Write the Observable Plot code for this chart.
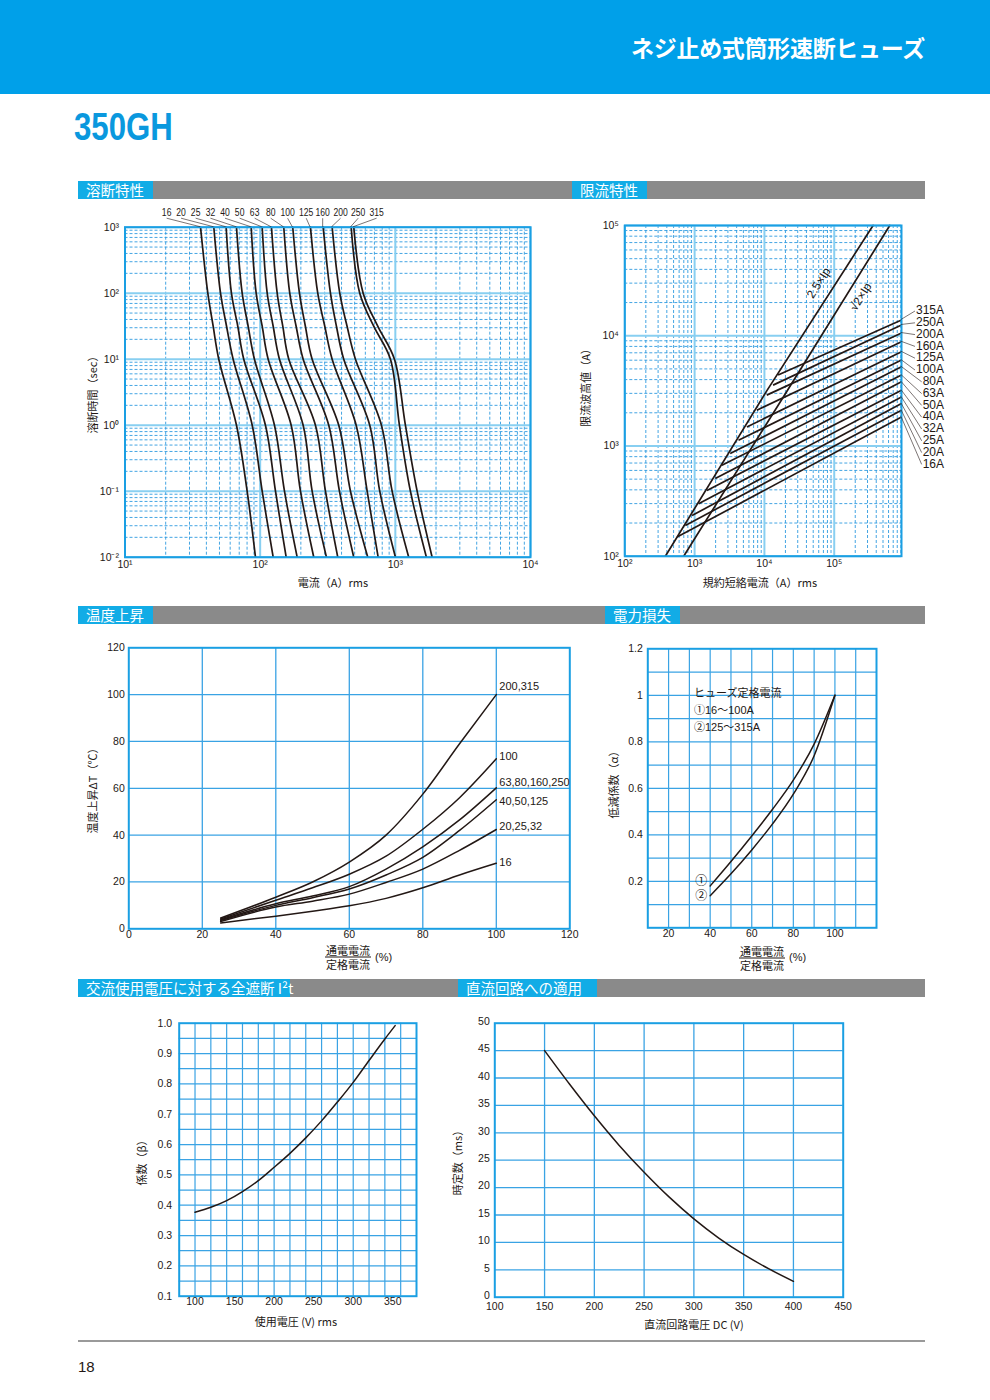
<!DOCTYPE html>
<html lang="ja">
<head>
<meta charset="utf-8">
<script src="https://cdn.jsdelivr.net/npm/d3@7"></script>
<script src="https://cdn.jsdelivr.net/npm/@observablehq/plot@0.6"></script>
<style>
html,body{margin:0;padding:0;background:#fff;}
#page{position:relative;width:990px;height:1400px;overflow:hidden;font-family:"Liberation Sans","Noto Sans CJK JP",sans-serif;color:#231815;}
#page > *{position:absolute;}
.band{left:0;top:0;width:990px;height:94px;background:#00a0e9;}
.htitle{right:65px;top:34px;font-family:"Noto Sans CJK JP",sans-serif;font-weight:700;font-size:23px;line-height:26px;color:#fff;letter-spacing:-0.3px;white-space:nowrap;}
.model{left:74px;top:108px;font-family:"Liberation Sans",sans-serif;font-weight:700;font-size:38px;line-height:38px;color:#0a98de;transform:scaleX(0.82);transform-origin:0 0;white-space:nowrap;}
.gbar{left:78px;width:847px;height:18px;background:#8a8a8a;}
.blab{height:18px;background:#12ace6;color:#fff;font-family:"Noto Sans CJK JP",sans-serif;font-size:14.5px;line-height:18px;padding-left:8px;box-sizing:border-box;white-space:nowrap;}
.ylab{transform:translate(-50%,-50%) rotate(-90deg);font-family:"Noto Sans CJK JP",sans-serif;font-size:11px;white-space:nowrap;line-height:1;}
.xlab{transform:translate(-50%,-50%);font-family:"Noto Sans CJK JP",sans-serif;font-size:11px;white-space:nowrap;line-height:1;}
.frac{transform:translate(-50%,-50%);font-family:"Noto Sans CJK JP",sans-serif;font-size:11px;line-height:13px;text-align:center;white-space:nowrap;}
.frac .num{border-bottom:1px solid #231815;padding:0 1px 0;}
.pct{font-size:11px;line-height:1;transform:translate(0,-50%);}
.rule{left:78px;top:1340px;width:847px;height:1.5px;background:#9a9a9a;}
.pno{left:78px;top:1358px;font-size:15px;line-height:18px;}
</style>
</head>
<body>
<div id="page">
  <div class="band"></div>
  <div class="htitle">ネジ止め式筒形速断ヒューズ</div>
  <div class="model">350GH</div>
</div>
<script>
// ---------------- DATA ----------------
// 溶断特性 (melting characteristics): time (s) vs current (A rms)
const meltRatings = [16, 20, 25, 32, 40, 50, 63, 80, 100, 125, 160, 200, 250, 315];
const meltTime = [1000, 100, 31.6, 10, 1, 0.1, 0.01];
const meltCurrent = [
  [36.2, 41.0, 44.9, 49.4, 66.8, 80.1, 92.3],
  [45.4, 50.9, 56.4, 63.1, 87.3, 103.5, 124.8],
  [56.0, 61.3, 68.3, 75.6, 109.4, 129.8, 155.7],
  [66.8, 73.6, 81.5, 90.7, 127.6, 151.3, 187.8],
  [85.8, 93.4, 103.5, 114.6, 169.6, 198.7, 249.2],
  [103.5, 112.7, 124.8, 138.9, 208.0, 242.4, 309.3],
  [121.2, 133.6, 147, 162.8, 256.4, 304.1, 375.0],
  [149.5, 165.5, 184.5, 208.0, 321.7, 385.9, 492.5],
  [174.2, 195.3, 216, 242.4, 381.4, 465.6, 625.2],
  [235.5, 266.7, 300.6, 340.8, 513.0, 618.8, 746.1],
  [292.4, 331.1, 366.6, 415.2, 646.7, 766.7, 1002],
  [340.8, 388.0, 439.5, 506.9, 789.3, 946.8, 1256],
  [471.2, 545.4, 692, 920, 1072, 1293, 1698],
  [492.4, 577.9, 741, 985, 1187, 1450, 1872]
];
const meltLabelAt = [20.5, 26.2, 33.6, 43.2, 55.4, 71.1, 91.8, 120.6, 161, 221, 292.6, 397, 536, 733];

// 限流特性 (current limiting): peak let-through (A) vs prospective current (A rms)
const ip25X = [381, 10800, 360000];
const ip25Y = [100, 3162, 100000];
const ipR2X = [697, 20900, 625000];
const ipR2Y = [100, 3120, 100000];
const ipLabels = ["2.5×Ip", "√2×Ip"];
const ipLabelX = [60000, 240000];
const ipLabelY = [30100, 22500];
const limRatings = [16, 20, 25, 32, 40, 50, 63, 80, 100, 125, 160, 200, 250, 315];
const limStartX = [561, 736, 918, 1140, 1503, 1977, 2461, 3236, 4254, 5610, 7786, 10800, 13300, 15700];
const limStartY = [149, 190, 234, 299, 395, 506, 668, 853, 1127, 1489, 2113, 2891, 3565, 4395];
const limEndY = [1833, 2113, 2429, 2788, 3205, 3819, 4395, 5227, 6012, 7160, 8818, 10590, 12510, 13900];

// 温度上昇 (temperature rise)
const tempX = [25, 40, 50, 60, 70, 80, 90, 100];
const tempGroups = ["200,315", "100", "63,80,160,250", "40,50,125", "20,25,32", "16"];
const tempY = [
  [4.6, 13.5, 20.0, 28.5, 40.0, 57.5, 79.0, 100],
  [4.2, 12.2, 17.5, 23.3, 31.0, 42.5, 56.0, 72.6],
  [3.8, 10.7, 14.0, 18.0, 25.5, 35.0, 46.5, 60.2],
  [3.5, 10.0, 13.3, 17.0, 23.0, 30.5, 42.0, 55.1],
  [3.1, 9.3, 11.8, 14.8, 19.8, 25.5, 33.5, 42.4],
  [2.5, 5.4, 7.5, 9.8, 13.0, 17.5, 23.0, 28.0]
];
const tempLabelY = [103.5, 73.5, 62.5, 54.5, 43.5, 28.5];

// 電力損失 (derating factor α)
const alphaX = [40, 50, 60, 70, 80, 90, 100];
const alpha1 = [0.18, 0.285, 0.395, 0.51, 0.635, 0.79, 1.0];
const alpha2 = [0.138, 0.232, 0.335, 0.447, 0.575, 0.74, 1.0];
const alphaNotes = ["ヒューズ定格電流", "①16〜100A", "②125〜315A"];

// 交流使用電圧に対する全遮断 I²t (factor β)
const betaV = [100, 120, 140, 160, 180, 200, 220, 240, 260, 280, 300, 320, 340, 353];
const beta = [0.377, 0.393, 0.415, 0.445, 0.481, 0.525, 0.571, 0.622, 0.678, 0.74, 0.805, 0.877, 0.948, 0.992];

// 直流回路への適用 (time constant)
const dcV = [150, 175, 200, 225, 250, 275, 300, 325, 350, 375, 400];
const dcTau = [45, 38.9, 33.1, 27.7, 22.8, 18.3, 14.3, 10.8, 7.8, 5.2, 2.9];

// ---------------- STYLE ----------------
const page = document.getElementById("page");
const FONT = '"Liberation Sans","Noto Sans CJK JP",sans-serif';
const INK = "#231815";
const FRAME = "#1a9fe3";
const MAJOR = "#88cff1";
const MINOR = "#2f9be0";
const GRID = "#3aa3e4";
const plotStyle = {fontFamily: FONT, fontSize: "10.5px", color: INK, background: "transparent", overflow: "visible"};

function mount(node, left, top) {
  node.style.position = "absolute";
  node.style.left = left + "px";
  node.style.top = top + "px";
  page.appendChild(node);
}
function html(cls, text, left, top, extra) {
  const d = document.createElement("div");
  d.className = cls;
  d.innerHTML = text;
  d.style.left = left + "px";
  d.style.top = top + "px";
  if (extra) Object.assign(d.style, extra);
  page.appendChild(d);
  return d;
}
const sup = {"-": "⁻", "0": "⁰", "1": "¹", "2": "²", "3": "³", "4": "⁴", "5": "⁵"};
const pow10 = v => "10" + String(Math.round(Math.log10(v))).split("").map(c => sup[c]).join("");
function logGrid(lo, hi, max) {
  const major = [], minor = [];
  for (let e = lo; e <= hi; e++) {
    major.push(10 ** e);
    for (let m = 2; m <= 9; m++) { const v = m * 10 ** e; if (v < (max ?? 10 ** hi)) minor.push(v); }
  }
  return {major, minor};
}
const range = (a, b, s) => d3.range(a, b + s / 2, s);

// ---------------- SECTION BARS ----------------
[[181, [["溶断特性", 78, 75], ["限流特性", 572, 75]]],
 [606, [["温度上昇", 78, 75], ["電力損失", 605, 75]]],
 [979, [["交流使用電圧に対する全遮断 I²t", 78, 212], ["直流回路への適用", 458, 139]]]
].forEach(([y, labs]) => {
  html("gbar", "", 78, y);
  labs.forEach(([t, x, w]) => html("blab", t, x, y, {width: w + "px"}));
});
html("rule", "", 78, 1340);
html("pno", "18", 78, 1358);

// ---------------- CHART 1: 溶断特性 ----------------
{
  const gx = logGrid(1, 4, 1e4), gy = logGrid(-2, 3, 1e3);
  const rows = meltRatings.flatMap((r, i) => meltTime.map((t, j) => ({rating: r, time: t, current: meltCurrent[i][j]})));
  const svg = Plot.plot({
    width: 470, height: 390, marginLeft: 54.5, marginRight: 10, marginTop: 26.7, marginBottom: 33.3,
    style: plotStyle,
    x: {type: "log", domain: [10, 1e4], axis: null},
    y: {type: "log", domain: [0.01, 1000], axis: null},
    marks: [
      Plot.ruleX(gx.minor, {stroke: MINOR, strokeWidth: 0.9, strokeDasharray: "3,2"}),
      Plot.ruleY(gy.minor, {stroke: MINOR, strokeWidth: 0.9, strokeDasharray: "3,2"}),
      Plot.ruleX(gx.major, {stroke: MAJOR, strokeWidth: 2}),
      Plot.ruleY(gy.major, {stroke: MAJOR, strokeWidth: 2}),
      Plot.line(rows, {x: "current", y: "time", z: "rating", curve: "catmull-rom", stroke: INK, strokeWidth: 1.7}),
      Plot.frame({stroke: FRAME, strokeWidth: 2}),
      Plot.text(gx.major, {x: d => d, text: pow10, frameAnchor: "bottom", dy: 11}),
      Plot.text(gy.major, {y: d => d, text: pow10, frameAnchor: "left", textAnchor: "end", dx: -6}),
      (index, scales, values, dims) => {
        const g = d3.create("svg:g");
        const top = dims.marginTop;
        meltRatings.forEach((r, i) => {
          const lx = scales.x(meltLabelAt[i]), tx = scales.x(meltCurrent[i][0]);
          g.append("line").attr("x1", lx).attr("y1", top - 8.5).attr("x2", tx).attr("y2", top)
            .attr("stroke", INK).attr("stroke-width", 0.6);
          g.append("text").attr("transform", `translate(${lx},${top - 14.5}) scale(0.78,1)`).attr("dy", "0.35em")
            .attr("text-anchor", "middle").attr("font-size", 11).attr("fill", INK)
            .text(r);
        });
        return g.node();
      }
    ]
  });
  mount(svg, 70, 200);
  html("ylab", "溶断時間（sec）", 92, 392);
  html("xlab", "電流（A）rms", 333, 582);
}

// ---------------- CHART 2: 限流特性 ----------------
{
  const XMAX = 9.2e5;
  const gx = logGrid(2, 5, XMAX), gy = logGrid(2, 5, 1e5);
  const ipRows = [
    ...ip25X.map((x, i) => ({k: ipLabels[0], x, y: ip25Y[i]})),
    ...ipR2X.map((x, i) => ({k: ipLabels[1], x, y: ipR2Y[i]}))
  ];
  const idx = limRatings.map((_, i) => i);
  const svg = Plot.plot({
    width: 390, height: 390, marginLeft: 54.3, marginRight: 59, marginTop: 25, marginBottom: 34.3,
    style: plotStyle,
    x: {type: "log", domain: [100, XMAX], axis: null},
    y: {type: "log", domain: [100, 1e5], axis: null},
    marks: [
      Plot.ruleX(gx.minor, {stroke: MINOR, strokeWidth: 0.9, strokeDasharray: "3,2"}),
      Plot.ruleY(gy.minor, {stroke: MINOR, strokeWidth: 0.9, strokeDasharray: "3,2"}),
      Plot.ruleX(gx.major, {stroke: MAJOR, strokeWidth: 2}),
      Plot.ruleY(gy.major, {stroke: MAJOR, strokeWidth: 2}),
      Plot.line(ipRows, {x: "x", y: "y", z: "k", stroke: INK, strokeWidth: 1.7}),
      Plot.link(idx, {x1: i => limStartX[i], y1: i => limStartY[i], x2: () => XMAX, y2: i => limEndY[i], stroke: INK, strokeWidth: 1.7}),
      Plot.frame({stroke: FRAME, strokeWidth: 2}),
      Plot.text([0, 1], {x: i => ipLabelX[i], y: i => ipLabelY[i], text: i => ipLabels[i], rotate: -57.8, fontSize: 12, fill: INK}),
      Plot.text(gx.major, {x: d => d, text: pow10, frameAnchor: "bottom", dy: 11}),
      Plot.text(gy.major, {y: d => d, text: pow10, frameAnchor: "left", textAnchor: "end", dx: -6}),
      (index, scales, values, dims) => {
        const g = d3.create("svg:g");
        const xr = dims.width - dims.marginRight;
        const n = limRatings.length;
        limRatings.forEach((r, i) => {
          const k = n - 1 - i;
          const ly = dims.marginTop + 85 + k * 11.8;
          const txt = r + "A";
          const w = (txt.length - 1) * 6.67 + 8;
          const lx = xr + 43;
          g.append("line").attr("x1", lx - w - 1).attr("y1", ly + 1).attr("x2", xr).attr("y2", scales.y(limEndY[i]))
            .attr("stroke", INK).attr("stroke-width", 0.6);
          g.append("text").attr("x", lx).attr("y", ly).attr("dy", "0.35em").attr("text-anchor", "end")
            .attr("font-size", 12).attr("fill", INK).text(txt);
        });
        return g.node();
      }
    ]
  });
  mount(svg, 570, 200);
  html("ylab", "限流波高値（A）", 585, 385);
  html("xlab", "規約短絡電流（A）rms", 760, 582);
}

// ---------------- CHART 3: 温度上昇 ----------------
{
  const rows = tempGroups.flatMap((g, i) => tempX.map((x, j) => ({g, x, y: tempY[i][j]})));
  const svg = Plot.plot({
    width: 510, height: 310, marginLeft: 48.3, marginRight: 20.7, marginTop: 7.3, marginBottom: 21.7,
    style: plotStyle,
    x: {domain: [0, 120], axis: null},
    y: {domain: [0, 120], axis: null},
    marks: [
      Plot.ruleX(range(20, 100, 20), {stroke: GRID, strokeWidth: 1.3}),
      Plot.ruleY(range(20, 100, 20), {stroke: GRID, strokeWidth: 1.3}),
      Plot.line(rows, {x: "x", y: "y", z: "g", curve: "monotone-x", stroke: INK, strokeWidth: 1.5}),
      Plot.frame({stroke: FRAME, strokeWidth: 2}),
      Plot.text(tempGroups, {x: () => 100, y: (d, i) => tempLabelY[i], text: d => d, textAnchor: "start", dx: 3, fontSize: 11, fill: INK}),
      Plot.text(range(0, 120, 20), {x: d => d, text: d => d, frameAnchor: "bottom", dy: 9}),
      Plot.text(range(0, 120, 20), {y: d => d, text: d => d, frameAnchor: "left", textAnchor: "end", dx: -4})
    ]
  });
  mount(svg, 80, 640);
  html("ylab", "温度上昇ΔT（℃）", 92, 788);
  html("frac", '<div class="num">通電電流</div><div>定格電流</div>', 348, 957);
  html("pct", "(%)", 375, 957);
}

// ---------------- CHART 4: 電力損失 ----------------
{
  const rows = [
    ...alphaX.map((x, j) => ({k: "①", x, y: alpha1[j]})),
    ...alphaX.map((x, j) => ({k: "②", x, y: alpha2[j]}))
  ];
  const svg = Plot.plot({
    width: 290, height: 310, marginLeft: 47.3, marginRight: 14, marginTop: 8.3, marginBottom: 22.7,
    style: plotStyle,
    x: {domain: [10, 120], axis: null},
    y: {domain: [0, 1.2], axis: null},
    marks: [
      Plot.ruleX(range(20, 110, 10), {stroke: GRID, strokeWidth: 1.2}),
      Plot.ruleY(range(0.1, 1.1, 0.1), {stroke: GRID, strokeWidth: 1.2}),
      Plot.line(rows, {x: "x", y: "y", z: "k", curve: "monotone-x", stroke: INK, strokeWidth: 1.5}),
      Plot.frame({stroke: FRAME, strokeWidth: 2}),
      Plot.text(["①", "②"], {x: () => 40, y: (d, i) => [alpha1[0] + 0.02, alpha2[0]][i], text: d => d, textAnchor: "end", dx: -3, fontSize: 12, fill: INK}),
      Plot.text(alphaNotes, {x: () => 32.2, y: (d, i) => [1.008, 0.935, 0.862][i], text: d => d, textAnchor: "start", fontSize: 11, fill: INK}),
      Plot.text(range(20, 100, 20), {x: d => d, text: d => d, frameAnchor: "bottom", dy: 9}),
      Plot.text(range(0.2, 1.2, 0.2), {y: d => d, text: d => (Math.abs(d - 1) < 1e-9 ? "1" : d3.format(".1f")(d)), frameAnchor: "left", textAnchor: "end", dx: -5})
    ]
  });
  mount(svg, 600, 640);
  html("ylab", "低減係数（α）", 613, 782);
  html("frac", '<div class="num">通電電流</div><div>定格電流</div>', 762, 958);
  html("pct", "(%)", 789, 957);
}

// ---------------- CHART 5: 全遮断 I²t ----------------
{
  const svg = Plot.plot({
    width: 310, height: 305, marginLeft: 58.7, marginRight: 14, marginTop: 12.7, marginBottom: 19.3,
    style: plotStyle,
    x: {domain: [80, 380], axis: null},
    y: {domain: [0.1, 1.0], axis: null},
    marks: [
      Plot.ruleX(range(100, 360, 20), {stroke: GRID, strokeWidth: 1.2}),
      Plot.ruleY(range(0.15, 0.95, 0.05), {stroke: GRID, strokeWidth: 1.2}),
      Plot.line(betaV.map((v, i) => ({v, b: beta[i]})), {x: "v", y: "b", curve: "monotone-x", stroke: INK, strokeWidth: 1.5}),
      Plot.frame({stroke: FRAME, strokeWidth: 2}),
      Plot.text(range(100, 350, 50), {x: d => d, text: d => d, frameAnchor: "bottom", dy: 9}),
      Plot.text(range(0.1, 1.0, 0.1), {y: d => d, text: d => d3.format(".1f")(d), frameAnchor: "left", textAnchor: "end", dx: -7})
    ]
  });
  mount(svg, 120, 1010);
  html("ylab", "係数（β）", 141, 1160);
  html("xlab", "使用電圧 (V) rms", 296, 1321);
}

// ---------------- CHART 6: 直流回路への適用 ----------------
{
  const svg = Plot.plot({
    width: 420, height: 305, marginLeft: 54.3, marginRight: 17.3, marginTop: 12.7, marginBottom: 18.3,
    style: plotStyle,
    x: {domain: [100, 450], axis: null},
    y: {domain: [0, 50], axis: null},
    marks: [
      Plot.ruleX(range(150, 400, 50), {stroke: GRID, strokeWidth: 1.3}),
      Plot.ruleY(range(5, 45, 5), {stroke: GRID, strokeWidth: 1.3}),
      Plot.line(dcV.map((v, i) => ({v, t: dcTau[i]})), {x: "v", y: "t", curve: "monotone-x", stroke: INK, strokeWidth: 1.5}),
      Plot.frame({stroke: FRAME, strokeWidth: 2}),
      Plot.text(range(100, 450, 50), {x: d => d, text: d => d, frameAnchor: "bottom", dy: 12.5}),
      Plot.text(range(0, 50, 5), {y: d => d, text: d => d, frameAnchor: "left", textAnchor: "end", dx: -5, dy: -1.5})
    ]
  });
  mount(svg, 440, 1010);
  html("ylab", "時定数（ms）", 457, 1160);
  html("xlab", "直流回路電圧 DC (V)", 694, 1324);
}
</script>
</body>
</html>
